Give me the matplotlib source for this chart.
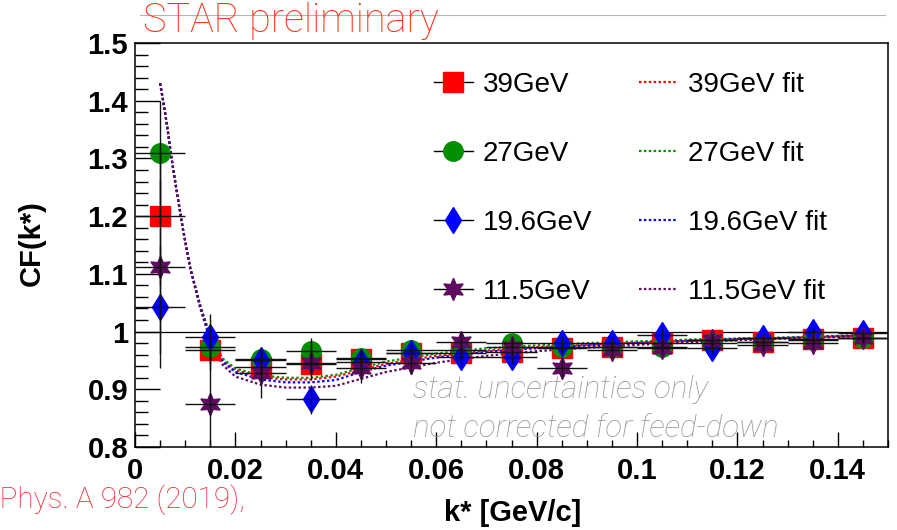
import numpy as np
import matplotlib as mpl
mpl.use('Agg')
import matplotlib.pyplot as plt
from matplotlib.lines import Line2D
from matplotlib.ticker import MultipleLocator, FuncFormatter

mpl.rc("font", family=["Liberation Sans", "DejaVu Sans"])

# bin centres in k* [GeV/c]
kstar = [0.005, 0.015, 0.025, 0.035, 0.045, 0.055, 0.065, 0.075,
         0.085, 0.095, 0.105, 0.115, 0.125, 0.135, 0.145]
kerr = [0.005] * 15

cf_39 = [1.20, 0.968, 0.938, 0.943, 0.952, 0.963, 0.963, 0.965,
         0.971, 0.974, 0.981, 0.985, 0.982, 0.987, 0.989]
err_39 = [0.12, 0.035, 0.022, 0.02, 0.016, 0.013, 0.012, 0.011,
          0.01, 0.009, 0.009, 0.008, 0.008, 0.007, 0.007]
cf_27 = [1.31, 0.973, 0.953, 0.967, 0.954, 0.968, 0.968, 0.980,
         0.974, 0.974, 0.974, 0.980, 0.982, 0.985, 0.989]
err_27 = [0.09, 0.03, 0.015, 0.022, 0.016, 0.013, 0.012, 0.011,
          0.01, 0.009, 0.009, 0.008, 0.008, 0.007, 0.007]
cf_196 = [1.043, 0.990, 0.951, 0.883, 0.948, 0.963, 0.956, 0.956,
          0.980, 0.980, 0.994, 0.971, 0.989, 0.999, 0.997]
err_196 = [0.106, 0.04, 0.022, 0.025, 0.018, 0.014, 0.013, 0.012,
           0.011, 0.01, 0.01, 0.009, 0.009, 0.008, 0.008]
cf_115 = [1.112, 0.875, 0.928, 0.946, 0.937, 0.946, 0.982, 0.973,
          0.937, 0.968, 0.971, 0.985, 0.977, 0.980, 0.989]
err_115 = [0.15, 0.09, 0.043, 0.03, 0.026, 0.02, 0.018, 0.016,
           0.015, 0.013, 0.012, 0.011, 0.011, 0.01, 0.01]

# fit curves
fit_k = [0.005, 0.0058, 0.0065, 0.0072, 0.008, 0.0095, 0.011, 0.013, 0.015,
         0.0175, 0.02, 0.025, 0.03, 0.035, 0.04, 0.045, 0.05, 0.06, 0.07,
         0.08, 0.09, 0.10, 0.11, 0.12, 0.13, 0.145]
fit_39 = [1.43, 1.39, 1.35, 1.305, 1.26, 1.18, 1.11, 1.045, 0.99,
          0.950, 0.933, 0.921, 0.917, 0.917, 0.922, 0.933, 0.944, 0.958, 0.967,
          0.973, 0.977, 0.981, 0.984, 0.987, 0.989, 0.993]
fit_27 = [1.43, 1.39, 1.35, 1.305, 1.26, 1.18, 1.11, 1.045, 0.992,
          0.953, 0.936, 0.924, 0.920, 0.920, 0.925, 0.937, 0.948, 0.962, 0.971,
          0.976, 0.980, 0.983, 0.986, 0.988, 0.990, 0.994]
fit_196 = [1.43, 1.39, 1.35, 1.305, 1.26, 1.18, 1.11, 1.043, 0.988,
           0.947, 0.930, 0.917, 0.912, 0.912, 0.916, 0.930, 0.941, 0.955, 0.965,
           0.971, 0.976, 0.980, 0.984, 0.987, 0.989, 0.993]
fit_115 = [1.43, 1.39, 1.35, 1.305, 1.26, 1.18, 1.11, 1.04, 0.984,
           0.942, 0.922, 0.908, 0.903, 0.903, 0.906, 0.918, 0.930, 0.946, 0.958,
           0.966, 0.972, 0.977, 0.981, 0.985, 0.988, 0.992]

labels = ["39GeV", "27GeV", "19.6GeV", "11.5GeV"]
colors = ["#ff0000", "#008f00", "#0000ff", "#5e0b61"]
markers = ["s", "o", "d", (6, 1, 0)]
msizes = [14.5, 14, 13, 16]
series = [cf_39, cf_27, cf_196, cf_115]
errors = [err_39, err_27, err_196, err_115]
fits = [fit_39, fit_27, fit_196, fit_115]

fig = plt.figure(figsize=(8.97, 5.30), dpi=100)
ax = fig.add_axes([135/897, 83/530, 753/897, 404/530])

ax.axhline(1.0, color="black", lw=0.9, zorder=1)

for fit, c in zip(fits, colors):
    ax.plot(fit_k, fit, color=c, lw=1.6, ls=(0, (1.1, 1.1)), zorder=2)

for y, c, m, ms in zip(series, colors, markers, msizes):
    ax.plot(kstar, y, ls="none", marker=m, ms=ms, mfc=c, mec=c, zorder=3)

for y, e in zip(series, errors):
    ax.errorbar(kstar, y, xerr=kerr, yerr=e, fmt="none", ecolor="#111111",
                elinewidth=1.0, capsize=0, zorder=4)

ax.set_xlim(0, 0.15)
ax.set_ylim(0.8, 1.5)
ax.xaxis.set_major_locator(MultipleLocator(0.02))
ax.xaxis.set_minor_locator(MultipleLocator(0.005))
ax.yaxis.set_major_locator(MultipleLocator(0.1))
ax.yaxis.set_minor_locator(MultipleLocator(0.02))
fmt = FuncFormatter(lambda v, p: "%g" % round(v, 3))
ax.xaxis.set_major_formatter(fmt)
ax.yaxis.set_major_formatter(fmt)
ax.tick_params(axis="both", which="both", direction="in", top=False, right=False,
               width=1.0, color="black")
ax.tick_params(axis="y", which="major", length=18, pad=5, labelsize=21)
ax.tick_params(axis="y", which="minor", length=9)
ax.tick_params(axis="x", which="major", length=11, pad=7, labelsize=21)
ax.tick_params(axis="x", which="minor", length=5)
for lab in ax.get_xticklabels() + ax.get_yticklabels():
    lab.set_fontweight("bold")
for sp in ax.spines.values():
    sp.set_linewidth(1.1)

fig.text(32/897, 1 - 243/530, "CF(k*)", rotation=90, ha="center", va="center",
         fontsize=21, fontweight="bold")
fig.text(513/897, 1 - 513/530, "k* [GeV/c]", ha="center", va="center",
         fontsize=21, fontweight="bold")

# legend
handles = []
for c, m, ms in zip(colors, markers, msizes):
    handles.append(Line2D([], [], color="black", lw=1.0, marker=m, ms=ms,
                          mfc=c, mec=c))
for c in colors:
    handles.append(Line2D([], [], color=c, lw=1.6, ls=(0, (1.1, 1.1))))
leg_labels = labels + [l + " fit" for l in labels]
fig.legend(handles, leg_labels, loc="upper left",
           bbox_to_anchor=(434/897, 1 - 72/530), bbox_transform=fig.transFigure,
           ncol=2, frameon=False, fontsize=20, handlelength=1.4,
           handletextpad=0.35, columnspacing=1.7, labelspacing=1.55,
           borderpad=0, borderaxespad=0)

light = ["Roboto", "DejaVu Sans"]
fig.text(143/897, 1 - 32/530, "STAR preliminary", color="#ff3010", fontsize=28.5,
         family=light, fontweight="light", va="baseline", ha="left")
fig.text(245/897, 1 - 508/530, "Nucl. Phys. A 982 (2019),", color="#ee2233",
         fontsize=21.3, family=light, fontweight="light", va="baseline", ha="right")
fig.text(413/897, 1 - 398/530, "stat. uncertainties only", color="#999999",
         fontsize=22.6, family=light, fontweight="light", style="italic",
         va="baseline", ha="left")
fig.text(413/897, 1 - 437/530, "not corrected for feed-down", color="#999999",
         fontsize=22.6, family=light, fontweight="light", style="italic",
         va="baseline", ha="left")

fig.add_artist(Line2D([140/897, 885/897], [1 - 15/530, 1 - 15/530],
                      color="#b5b5b5", lw=0.8, zorder=0))

fig.savefig("out.png", dpi=100)
